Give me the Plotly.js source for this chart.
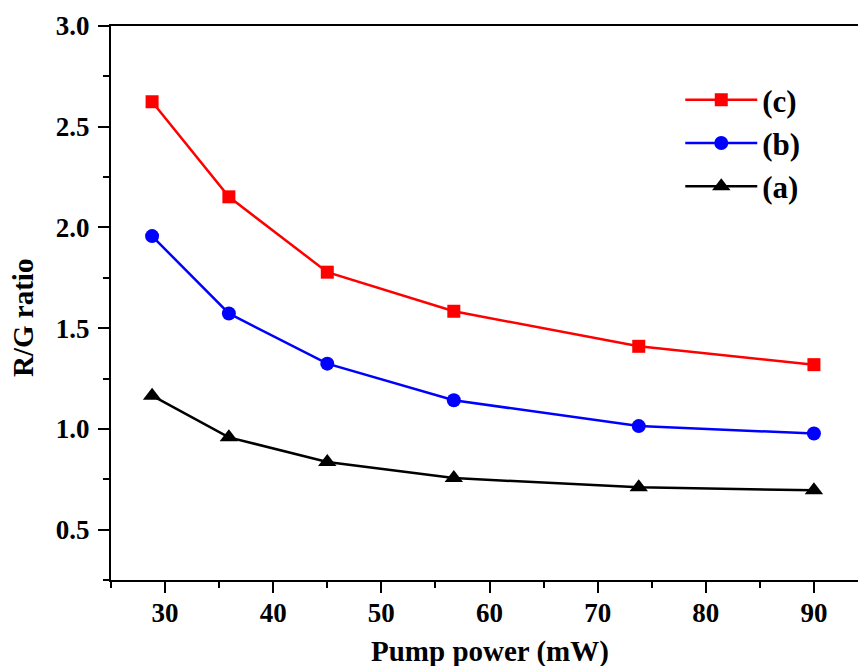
<!DOCTYPE html>
<html>
<head>
<meta charset="utf-8">
<script src="https://cdn.plot.ly/plotly-3.0.1.min.js"></script>
<style>
html,body{margin:0;padding:0;overflow:hidden;background:#fff;}
#chart{width:880px;height:666px;}
</style>
</head>
<body>
<div id="chart"></div>
<script>
var pumpPower = [28.8, 35.9, 45.0, 56.7, 73.8, 90.0];
var seriesC = [2.624, 2.152, 1.778, 1.584, 1.410, 1.319];
var seriesB = [1.957, 1.573, 1.324, 1.142, 1.014, 0.977];
var seriesA = [1.165, 0.958, 0.836, 0.756, 0.710, 0.695];
var seriesNames = ['(c)', '(b)', '(a)'];
var xTickVals = [30, 40, 50, 60, 70, 80, 90];
var yTickVals = [0.5, 1.0, 1.5, 2.0, 2.5, 3.0];
var yTickText = ['0.5', '1.0', '1.5', '2.0', '2.5', '3.0'];

var serif = 'Liberation Serif, Times New Roman, serif';

var traces = [
  {x: pumpPower, y: seriesC, name: seriesNames[0], mode: 'lines+markers',
   line: {color: '#ff0000', width: 2.5}, marker: {symbol: 'square', size: 13, color: '#ff0000'}},
  {x: pumpPower, y: seriesB, name: seriesNames[1], mode: 'lines+markers',
   line: {color: '#0000ff', width: 2.5}, marker: {symbol: 'circle', size: 14, color: '#0000ff'}},
  {x: pumpPower, y: seriesA, name: seriesNames[2], mode: 'lines+markers',
   line: {color: '#000000', width: 2.5}, marker: {symbol: 'triangle-up', size: 16, color: '#000000'}}
];

var layout = {
  width: 880, height: 666,
  margin: {l: 111, r: 12, t: 26, b: 86},
  paper_bgcolor: '#fff', plot_bgcolor: '#fff',
  font: {family: serif, color: '#000'},
  showlegend: true,
  legend: {x: 0.752, y: 0.915, xanchor: 'left', yanchor: 'top',
           font: {family: serif, size: 31, color: '#000', weight: 'bold'},
           itemwidth: 72, tracegroupgap: 0, bgcolor: 'rgba(0,0,0,0)'},
  xaxis: {
    range: [25, 95], showgrid: false, zeroline: false,
    showline: true, linecolor: '#000', linewidth: 2, mirror: true,
    ticks: 'outside', ticklen: 11, tickwidth: 2, tickcolor: '#000',
    tickvals: xTickVals, ticklabelstandoff: -3,
    tickfont: {family: serif, size: 27, color: '#000', weight: 'bold'},
    minor: {dtick: 5, tick0: 25, ticks: 'outside', ticklen: 6, tickwidth: 2, tickcolor: '#000', showgrid: false}
  },
  yaxis: {
    range: [0.25, 3.0], showgrid: false, zeroline: false,
    showline: true, linecolor: '#000', linewidth: 2, mirror: true,
    ticks: 'outside', ticklen: 11, tickwidth: 2, tickcolor: '#000',
    tickvals: yTickVals, ticktext: yTickText, ticklabelstandoff: 3,
    tickfont: {family: serif, size: 27, color: '#000', weight: 'bold'},
    minor: {dtick: 0.25, tick0: 0.25, ticks: 'outside', ticklen: 6, tickwidth: 2, tickcolor: '#000', showgrid: false}
  },
  annotations: [
    {text: 'Pump power (mW)', xref: 'paper', yref: 'paper', x: 0.5, y: 0, yshift: -71,
     xanchor: 'center', yanchor: 'middle', showarrow: false,
     font: {family: serif, size: 29, color: '#000', weight: 'bold'}},
    {text: 'R/G ratio', xref: 'paper', yref: 'paper', x: 0, y: 0.5, xshift: -88, yshift: -15,
     xanchor: 'center', yanchor: 'middle', showarrow: false, textangle: -90,
     font: {family: serif, size: 29, color: '#000', weight: 'bold'}}
  ]
};

Plotly.newPlot('chart', traces, layout, {displayModeBar: false, staticPlot: true});
</script>
</body>
</html>
